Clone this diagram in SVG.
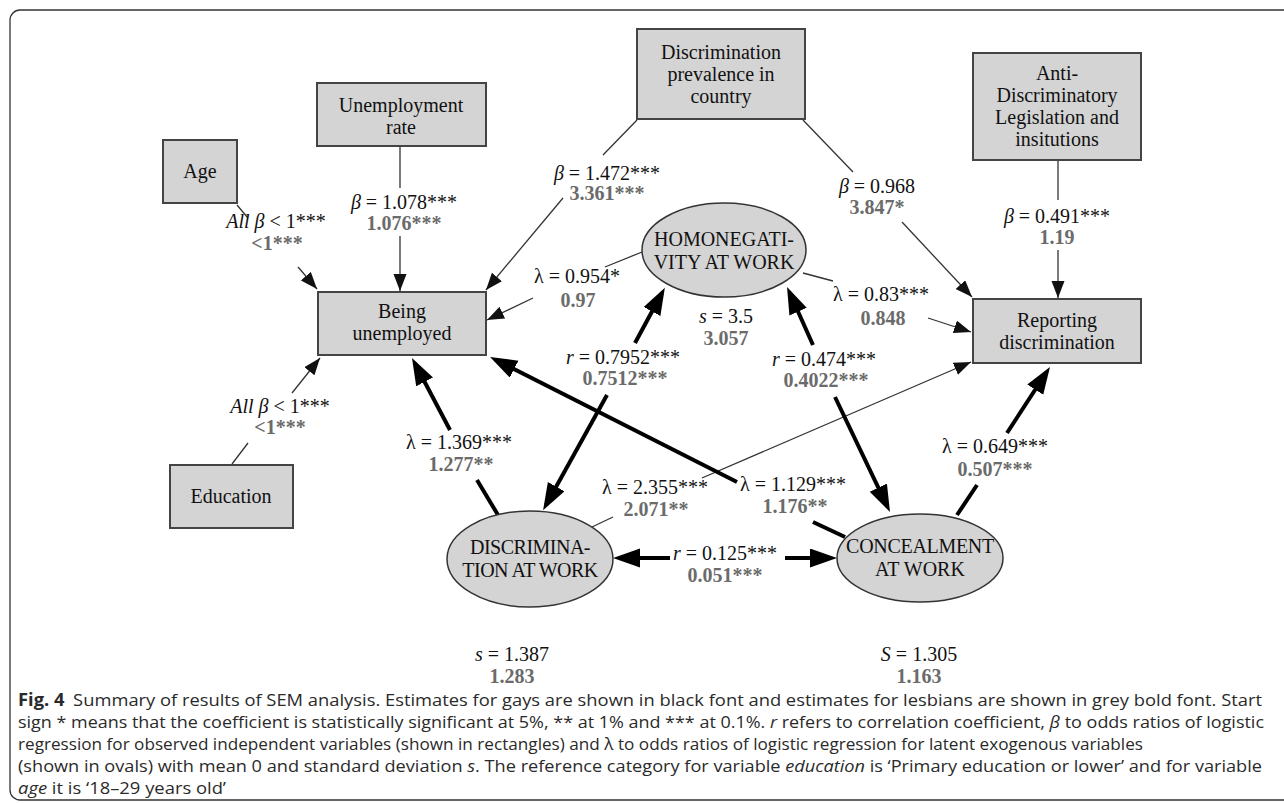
<svg xmlns="http://www.w3.org/2000/svg" width="1284" height="803" viewBox="0 0 1284 803">
<style>
.frame{fill:#fff;stroke:#333;stroke-width:1.3}
.box{fill:#d4d4d4;stroke:#444;stroke-width:2}
.ell{fill:#d4d4d4;stroke:#333;stroke-width:1.5}
.nt{font-family:"Liberation Serif",serif;font-size:20px;fill:#111;text-anchor:middle}
.lb{font-family:"Liberation Serif",serif;font-size:20px;fill:#111;text-anchor:middle}
.lg{font-family:"Liberation Serif",serif;font-size:20px;font-weight:bold;fill:#6b6b6b;text-anchor:middle}
.it{font-style:italic}
.thin{stroke:#333;stroke-width:1.3;fill:none}
.thick{stroke:#000;stroke-width:4;fill:none}
.cap{font-family:"Open Sans","Noto Sans",sans-serif;font-size:17px;fill:#2a2a2a}
</style>
<defs>
<marker id="ah" markerUnits="userSpaceOnUse" markerWidth="18" markerHeight="14" refX="17" refY="6.5" orient="auto"><path d="M0,0 L17,6.5 L0,13 z" fill="#111"/></marker>
<marker id="AH" markerUnits="userSpaceOnUse" markerWidth="28" markerHeight="20" refX="21" refY="9.5" orient="auto"><path d="M0,0 L27,9.5 L0,19 z" fill="#000"/></marker>
</defs>
<rect class="frame" x="10" y="10" width="1290" height="790" rx="10"/>

<g id="connectors">
<line class="thin" x1="237" y1="205" x2="248" y2="218"/>
<line class="thin" x1="298" y1="267" x2="317" y2="289" marker-end="url(#ah)"/>
<line class="thin" x1="400" y1="146" x2="400" y2="188"/>
<line class="thin" x1="400" y1="236" x2="400" y2="291" marker-end="url(#ah)"/>
<line class="thin" x1="637" y1="120" x2="603" y2="155"/>
<line class="thin" x1="563" y1="198" x2="486" y2="290" marker-end="url(#ah)"/>
<line class="thin" x1="803" y1="120" x2="853" y2="172"/>
<line class="thin" x1="902" y1="222" x2="972" y2="297" marker-end="url(#ah)"/>
<line class="thin" x1="1058" y1="160" x2="1058" y2="200"/>
<line class="thin" x1="1058" y1="250" x2="1058" y2="298" marker-end="url(#ah)"/>
<line class="thin" x1="642" y1="252" x2="605" y2="267"/>
<line class="thin" x1="533" y1="298" x2="487" y2="320" marker-end="url(#ah)"/>
<line class="thin" x1="803" y1="273" x2="833" y2="281"/>
<line class="thin" x1="928" y1="318" x2="971" y2="332" marker-end="url(#ah)"/>
<line class="thin" x1="232" y1="464" x2="248" y2="443"/>
<line class="thin" x1="292" y1="393" x2="320" y2="358" marker-end="url(#ah)"/>
<line class="thin" x1="592" y1="527" x2="613" y2="517"/>
<line class="thin" x1="702" y1="478" x2="971" y2="362" marker-end="url(#ah)"/>

<line class="thick" x1="635" y1="343" x2="662" y2="293" marker-end="url(#AH)"/>
<line class="thick" x1="607" y1="395" x2="546" y2="505" marker-end="url(#AH)"/>
<line class="thick" x1="813" y1="345" x2="789.5" y2="292.5" marker-end="url(#AH)"/>
<line class="thick" x1="835" y1="397" x2="887.4" y2="506.6" marker-end="url(#AH)"/>
<line class="thick" x1="498" y1="515" x2="477" y2="480"/>
<line class="thick" x1="450" y1="430" x2="414.8" y2="363.3" marker-end="url(#AH)"/>
<line class="thick" x1="845" y1="537" x2="813" y2="522"/>
<line class="thick" x1="737" y1="482" x2="495.4" y2="359.7" marker-end="url(#AH)"/>
<line class="thick" x1="670" y1="558" x2="619" y2="558" marker-end="url(#AH)"/>
<line class="thick" x1="785" y1="558" x2="831" y2="558" marker-end="url(#AH)"/>
<line class="thick" x1="957" y1="515" x2="977" y2="485"/>
<line class="thick" x1="1007" y1="433" x2="1046.7" y2="372" marker-end="url(#AH)"/>
</g>

<g id="age"><rect class="box" x="163" y="140" width="74" height="63"/><text class="nt" x="200" y="178">Age</text></g>
<g id="unemployment-rate"><rect class="box" x="317" y="83" width="169" height="63"/><text class="nt" x="401" y="112">Unemployment</text><text class="nt" x="401" y="134">rate</text></g>
<g id="discrimination-prevalence"><rect class="box" x="637" y="29" width="168" height="90"/><text class="nt" x="721" y="59">Discrimination</text><text class="nt" x="721" y="81">prevalence in</text><text class="nt" x="721" y="103">country</text></g>
<g id="anti-discrimination"><rect class="box" x="973" y="53" width="168" height="107"/><text class="nt" x="1057" y="80">Anti-</text><text class="nt" x="1057" y="102">Discriminatory</text><text class="nt" x="1057" y="124">Legislation and</text><text class="nt" x="1057" y="146">insitutions</text></g>
<g id="being-unemployed"><rect class="box" x="318" y="292" width="168" height="63"/><text class="nt" x="402" y="318">Being</text><text class="nt" x="402" y="340">unemployed</text></g>
<g id="reporting-discrimination"><rect class="box" x="973" y="299" width="168" height="64"/><text class="nt" x="1057" y="327">Reporting</text><text class="nt" x="1057" y="349">discrimination</text></g>
<g id="education"><rect class="box" x="170" y="465" width="123" height="63"/><text class="nt" x="231" y="503">Education</text></g>
<g id="homonegativity"><ellipse class="ell" cx="724" cy="250" rx="82" ry="47"/><text class="nt" x="724" y="246">HOMONEGATI-</text><text class="nt" x="724" y="269">VITY AT WORK</text></g>
<g id="discrimination-at-work"><ellipse class="ell" cx="530" cy="559" rx="83" ry="48"/><text class="nt" x="530" y="554" letter-spacing="-0.5">DISCRIMINA-</text><text class="nt" x="530" y="577" letter-spacing="-0.5">TION AT WORK</text></g>
<g id="concealment"><ellipse class="ell" cx="920" cy="558" rx="83" ry="44"/><text class="nt" x="920" y="553" letter-spacing="-0.3">CONCEALMENT</text><text class="nt" x="920" y="576">AT WORK</text></g>

<g id="labels">
<text class="lb" x="276" y="228"><tspan class="it">All β</tspan> &lt; 1***</text><text class="lg" x="277" y="250">&lt;1***</text>
<text class="lb" x="404" y="209"><tspan class="it">β</tspan> = 1.078***</text><text class="lg" x="404" y="230">1.076***</text>
<text class="lb" x="607" y="180"><tspan class="it">β</tspan> = 1.472***</text><text class="lg" x="607" y="200">3.361***</text>
<text class="lb" x="877" y="193"><tspan class="it">β</tspan> = 0.968</text><text class="lg" x="877" y="214">3.847*</text>
<text class="lb" x="1057" y="223"><tspan class="it">β</tspan> = 0.491***</text><text class="lg" x="1057" y="244">1.19</text>
<text class="lb" x="577" y="283">λ = 0.954*</text><text class="lg" x="578" y="307">0.97</text>
<text class="lb" x="881" y="301">λ = 0.83***</text><text class="lg" x="883" y="325">0.848</text>
<text class="lb" x="726" y="323"><tspan class="it">s</tspan> = 3.5</text><text class="lg" x="726" y="345">3.057</text>
<text class="lb" x="623" y="364"><tspan class="it">r</tspan> = 0.7952***</text><text class="lg" x="625" y="385">0.7512***</text>
<text class="lb" x="824" y="366"><tspan class="it">r</tspan> = 0.474***</text><text class="lg" x="826" y="387">0.4022***</text>
<text class="lb" x="280" y="413"><tspan class="it">All β</tspan> &lt; 1***</text><text class="lg" x="280" y="434">&lt;1***</text>
<text class="lb" x="459" y="449">λ = 1.369***</text><text class="lg" x="461" y="471">1.277**</text>
<text class="lb" x="995" y="453">λ = 0.649***</text><text class="lg" x="995" y="476">0.507***</text>
<text class="lb" x="655" y="494">λ = 2.355***</text><text class="lg" x="656" y="516">2.071**</text>
<text class="lb" x="793" y="491">λ = 1.129***</text><text class="lg" x="795" y="513">1.176**</text>
<text class="lb" x="725" y="560"><tspan class="it">r</tspan> = 0.125***</text><text class="lg" x="725" y="582">0.051***</text>
<text class="lb" x="512" y="661"><tspan class="it">s</tspan> = 1.387</text><text class="lg" x="512" y="683">1.283</text>
<text class="lb" x="919" y="661"><tspan class="it">S</tspan> = 1.305</text><text class="lg" x="919" y="683">1.163</text>
</g>

<g id="caption">
<text class="cap" x="18" y="706" textLength="1244" lengthAdjust="spacingAndGlyphs"><tspan font-weight="bold">Fig. 4</tspan><tspan dx="8">Summary of results of SEM analysis. Estimates for gays are shown in black font and estimates for lesbians are shown in grey bold font. Start</tspan></text>
<text class="cap" x="18" y="728" textLength="1246" lengthAdjust="spacingAndGlyphs">sign * means that the coefficient is statistically significant at 5%, ** at 1% and *** at 0.1%. <tspan font-style="italic">r</tspan> refers to correlation coefficient, <tspan font-style="italic">β</tspan> to odds ratios of logistic</text>
<text class="cap" x="18" y="750" textLength="1125" lengthAdjust="spacingAndGlyphs">regression for observed independent variables (shown in rectangles) and λ to odds ratios of logistic regression for latent exogenous variables</text>
<text class="cap" x="18" y="772" textLength="1244" lengthAdjust="spacingAndGlyphs">(shown in ovals) with mean 0 and standard deviation <tspan font-style="italic">s</tspan>. The reference category for variable <tspan font-style="italic">education</tspan> is ‘Primary education or lower’ and for variable</text>
<text class="cap" x="18" y="794" textLength="208" lengthAdjust="spacingAndGlyphs"><tspan font-style="italic">age</tspan> it is ‘18–29 years old’</text>
</g>
</svg>
